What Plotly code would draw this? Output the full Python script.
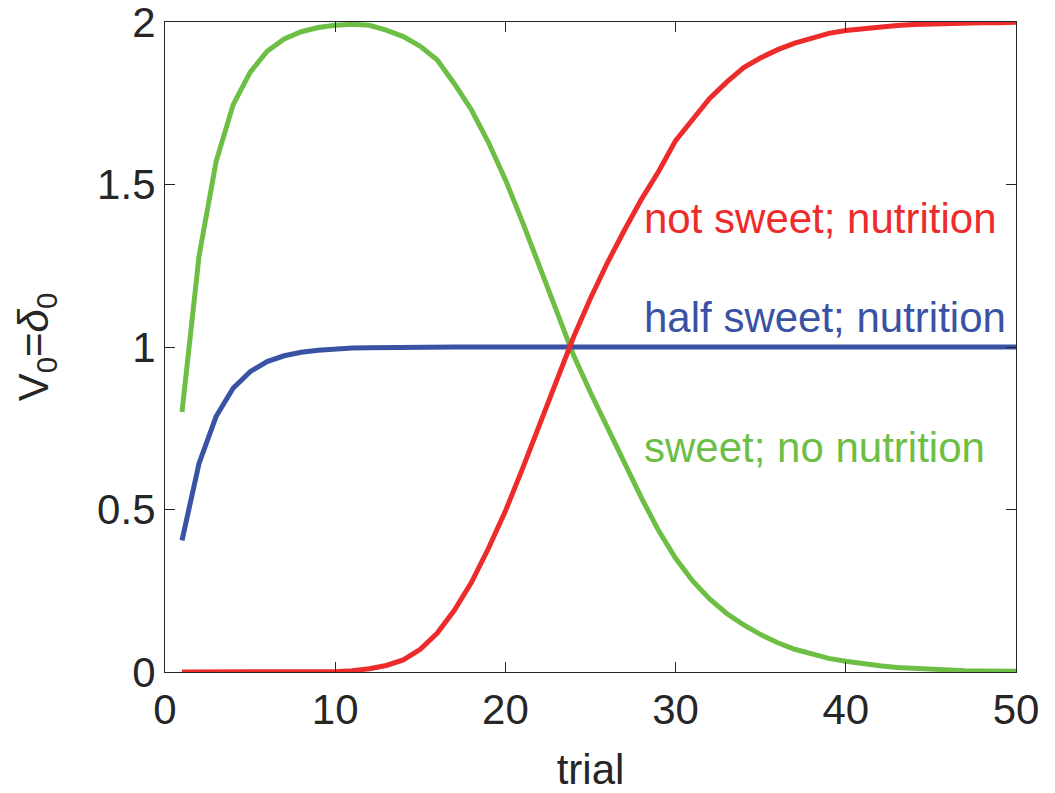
import plotly.graph_objects as go

trials = list(range(1, 51))

not_sweet_nutrition = [
    0.0, 0.0, 0.0, 0.0, 0.0, 0.0, 0.0, 0.0, 0.0, 0.001,
    0.004, 0.01, 0.02, 0.037, 0.07, 0.12, 0.19, 0.275, 0.38, 0.495,
    0.625, 0.76, 0.895, 1.03, 1.15, 1.26, 1.36, 1.455, 1.54, 1.635,
    1.70, 1.765, 1.815, 1.86, 1.89, 1.915, 1.935, 1.952, 1.965, 1.974,
    1.98, 1.985, 1.989, 1.992, 1.994, 1.996, 1.997, 1.998, 1.998, 1.999,
]

half_sweet_nutrition = [
    0.405, 0.642, 0.786, 0.873, 0.924, 0.955, 0.973, 0.984, 0.99, 0.994,
    0.997, 0.998, 0.999, 1.0, 1.0, 1.0, 1.0, 1.0, 1.0, 1.0,
    1.0, 1.0, 1.0, 1.0, 1.0, 1.0, 1.0, 1.0, 1.0, 1.0,
    1.0, 1.0, 1.0, 1.0, 1.0, 1.0, 1.0, 1.0, 1.0, 1.0,
    1.0, 1.0, 1.0, 1.0, 1.0, 1.0, 1.0, 1.0, 1.0, 1.0,
]

sweet_no_nutrition = [
    0.80, 1.28, 1.57, 1.745, 1.845, 1.91, 1.948, 1.97, 1.983, 1.99,
    1.993, 1.99, 1.975, 1.955, 1.925, 1.883, 1.81, 1.73, 1.63, 1.515,
    1.385, 1.245, 1.105, 0.975, 0.86, 0.75, 0.64, 0.535, 0.435, 0.35,
    0.28, 0.225, 0.18, 0.145, 0.115, 0.09, 0.07, 0.055, 0.042, 0.033,
    0.025, 0.019, 0.014, 0.011, 0.008, 0.006, 0.004, 0.003, 0.002, 0.002,
]

labels = ["not sweet; nutrition", "half sweet; nutrition", "sweet; no nutrition"]
label_y = [1.394, 1.092, 0.69]
label_x = 28.0

RED = "#EE2B2B"
BLUE = "#3A52A3"
GREEN = "#6DBE45"
AX = "#262626"
FONT = "Liberation Sans, Arial, sans-serif"

fig = go.Figure()
fig.add_trace(go.Scatter(x=trials, y=sweet_no_nutrition, mode="lines",
                         line=dict(color=GREEN, width=5), name=labels[2]))
fig.add_trace(go.Scatter(x=trials, y=half_sweet_nutrition, mode="lines",
                         line=dict(color=BLUE, width=5), name=labels[1]))
fig.add_trace(go.Scatter(x=trials, y=not_sweet_nutrition, mode="lines",
                         line=dict(color=RED, width=5), name=labels[0]))

for txt, yy, col in zip(labels, label_y, [RED, BLUE, GREEN]):
    fig.add_annotation(x=label_x, y=yy, xref="x", yref="y", text=txt,
                       showarrow=False, xanchor="left", yanchor="middle",
                       font=dict(family=FONT, size=42, color=col))

axis_common = dict(showgrid=False, zeroline=False, showline=True, linecolor=AX,
                   linewidth=1.2, mirror="ticks", ticks="inside", ticklen=10,
                   tickwidth=1.2, tickcolor=AX, automargin=False,
                   ticklabeloverflow="allow",
                   tickfont=dict(family=FONT, size=42, color=AX))

fig.update_xaxes(range=[0, 50], tickvals=[0, 10, 20, 30, 40, 50],
                 title=dict(text="trial", font=dict(family=FONT, size=42, color=AX), standoff=25),
                 **axis_common)
fig.update_yaxes(range=[0, 2], tickvals=[0, 0.5, 1, 1.5, 2],
                 ticktext=["0", "0.5", "1", "1.5", "2"],
                 title=dict(text="V<sub>0</sub>=<i>δ</i><sub>0</sub>", font=dict(family=FONT, size=42, color=AX), standoff=35),
                 **axis_common)

fig.update_layout(width=1047, height=785, showlegend=False,
                  plot_bgcolor="white", paper_bgcolor="white",
                  margin=dict(l=157, r=39, t=14, b=121))

fig.write_html("out.html")
